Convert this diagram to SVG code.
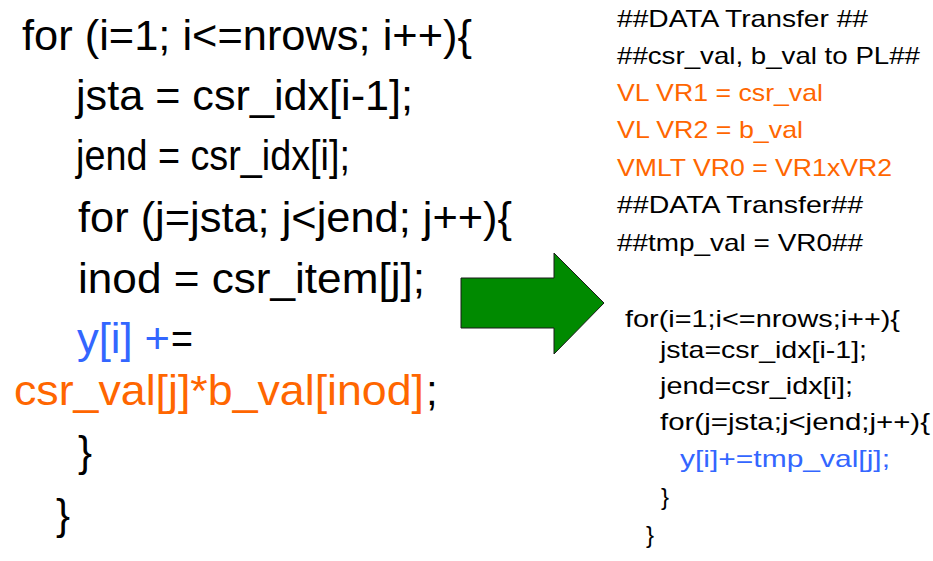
<svg xmlns="http://www.w3.org/2000/svg" width="933" height="561" viewBox="0 0 933 561">
<style>
text{font-family:"Liberation Sans",Arial,sans-serif;fill:#000;}
.big{font-size:42px;}
.sm{font-size:24px;}
.or{fill:#FF6600;}
.bl{fill:#3366FF;}
</style>
<rect width="933" height="561" fill="#fff"/>
<g id="original-code">
<text class="big" x="22" y="50" textLength="450" lengthAdjust="spacingAndGlyphs">for (i=1; i&lt;=nrows; i++){</text>
<text class="big" x="76" y="110" textLength="337" lengthAdjust="spacingAndGlyphs">jsta = csr_idx[i-1];</text>
<text class="big" x="76" y="170" textLength="274" lengthAdjust="spacingAndGlyphs">jend = csr_idx[i];</text>
<text class="big" x="78" y="232" textLength="434" lengthAdjust="spacingAndGlyphs">for (j=jsta; j&lt;jend; j++){</text>
<text class="big" x="78" y="293" textLength="347" lengthAdjust="spacingAndGlyphs">inod = csr_item[j];</text>
<text class="big bl" x="77" y="353" textLength="93" lengthAdjust="spacingAndGlyphs">y[i] +</text>
<text class="big" x="171" y="353" textLength="22" lengthAdjust="spacingAndGlyphs">=</text>
<text class="big or" x="14" y="405" textLength="410" lengthAdjust="spacingAndGlyphs">csr_val[j]*b_val[inod]</text>
<text class="big" x="426" y="405">;</text>
<text class="big" x="78" y="466">}</text>
<text class="big" x="56" y="529">}</text>
</g>
<g id="connectors">
<g id="arrow">
<polygon points="461,278 554,278 554,253 604,303 554,354 554,328 461,328" fill="#008A00" stroke="#1a1a1a" stroke-width="1"/>
</g>
</g>
<g id="transfer-code">
<text class="sm" x="617" y="27" textLength="251" lengthAdjust="spacingAndGlyphs">##DATA Transfer ##</text>
<text class="sm" x="617" y="64" textLength="303" lengthAdjust="spacingAndGlyphs">##csr_val, b_val to PL##</text>
<text class="sm or" x="617" y="101" textLength="206" lengthAdjust="spacingAndGlyphs">VL VR1 = csr_val</text>
<text class="sm or" x="617" y="138" textLength="186" lengthAdjust="spacingAndGlyphs">VL VR2 = b_val</text>
<text class="sm or" x="617" y="176" textLength="275" lengthAdjust="spacingAndGlyphs">VMLT VR0 = VR1xVR2</text>
<text class="sm" x="617" y="213" textLength="246" lengthAdjust="spacingAndGlyphs">##DATA Transfer##</text>
<text class="sm" x="617" y="251" textLength="246" lengthAdjust="spacingAndGlyphs">##tmp_val = VR0##</text>
</g>
<g id="new-code">
<text class="sm" x="625" y="327" textLength="275" lengthAdjust="spacingAndGlyphs">for(i=1;i&lt;=nrows;i++){</text>
<text class="sm" x="660" y="358" textLength="207" lengthAdjust="spacingAndGlyphs">jsta=csr_idx[i-1];</text>
<text class="sm" x="660" y="394" textLength="193" lengthAdjust="spacingAndGlyphs">jend=csr_idx[i];</text>
<text class="sm" x="660" y="430" textLength="270" lengthAdjust="spacingAndGlyphs">for(j=jsta;j&lt;jend;j++){</text>
<text class="sm bl" x="680" y="467" textLength="210" lengthAdjust="spacingAndGlyphs">y[i]+=tmp_val[j];</text>
<text class="sm" x="661" y="505">}</text>
<text class="sm" x="646" y="543">}</text>
</g>
</svg>
